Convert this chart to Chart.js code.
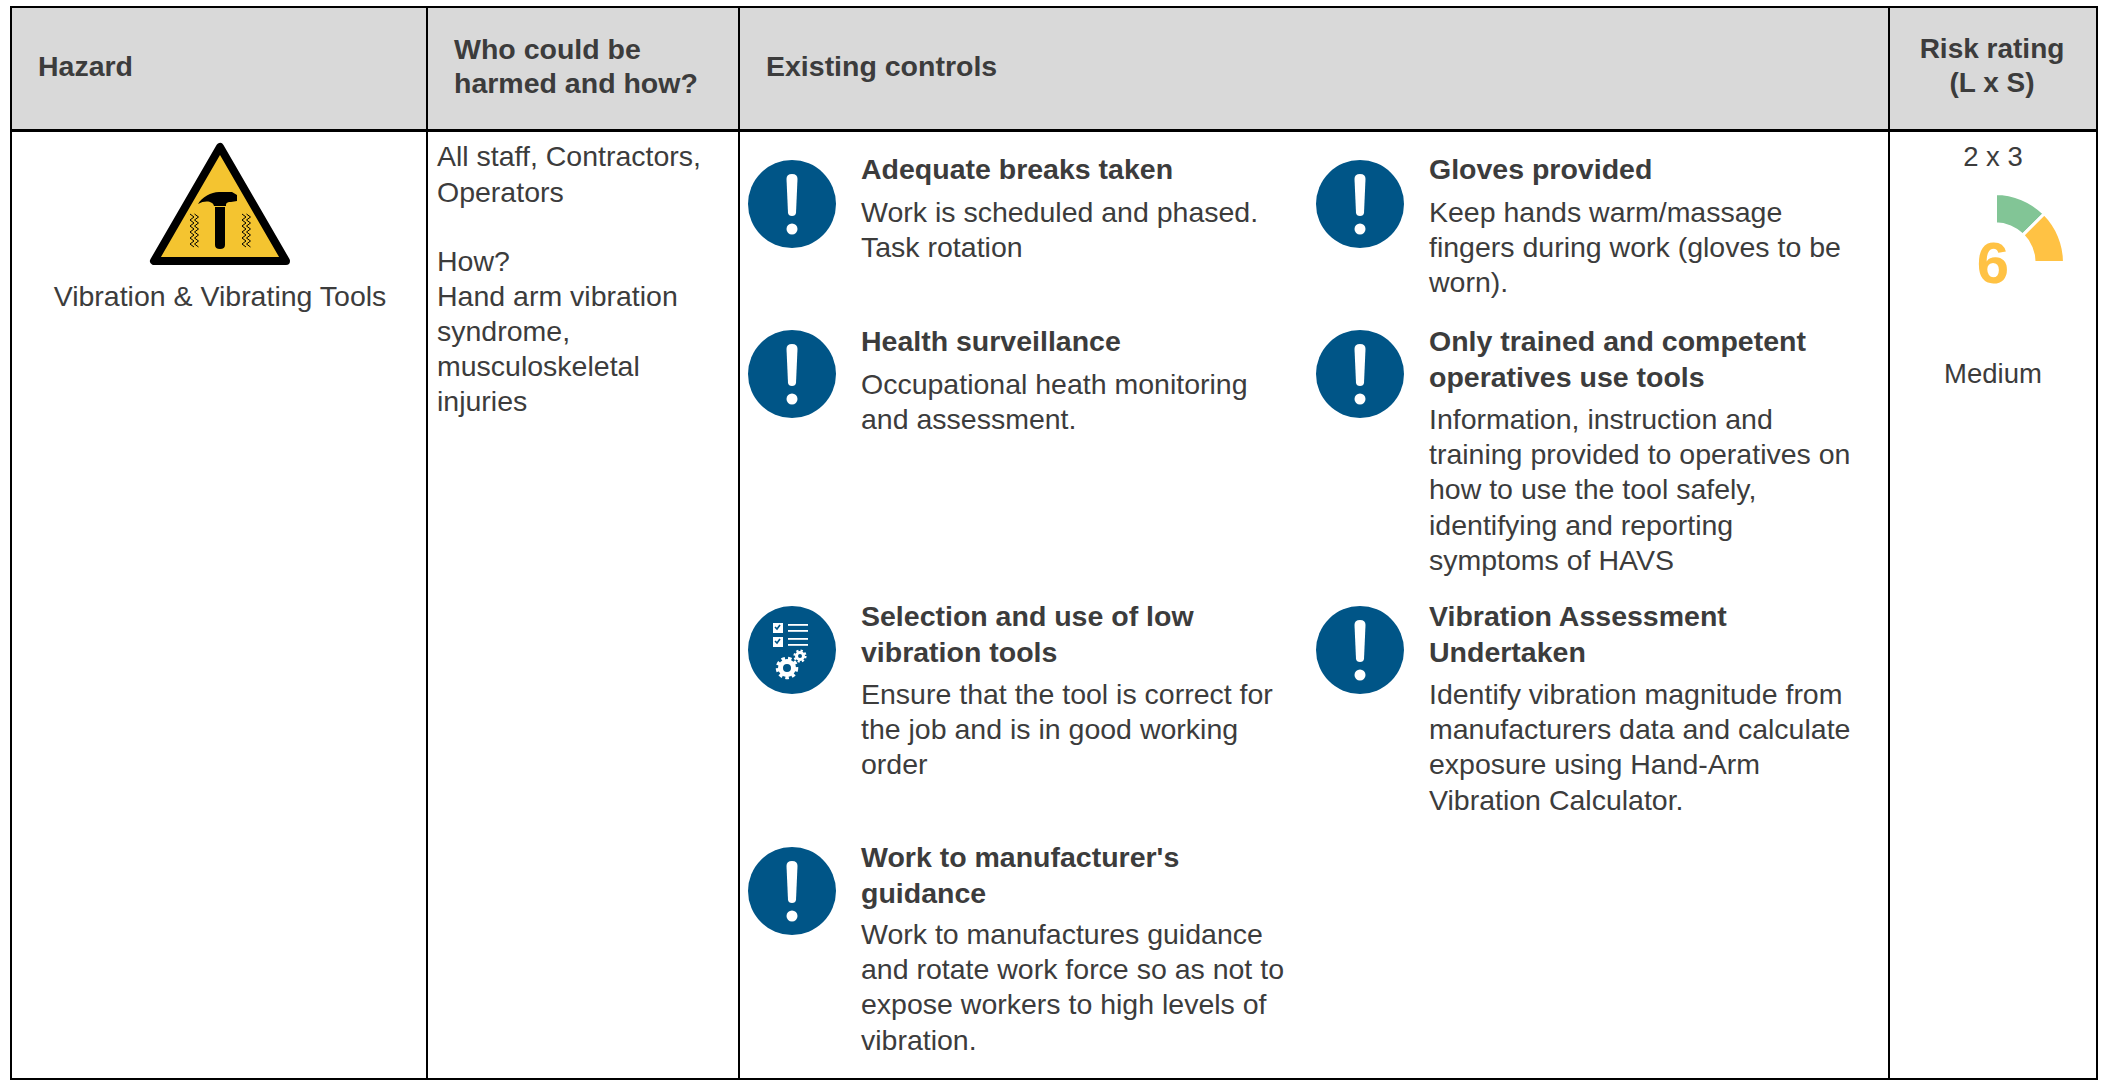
<!DOCTYPE html>
<html><head><meta charset="utf-8"><title>Hazard risk assessment</title>
<script src="https://cdn.jsdelivr.net/npm/chart.js@4"></script>
<style>
html,body{margin:0;padding:0;background:#fff;width:2104px;height:1080px;overflow:hidden}
body{font-family:"Liberation Sans",Arial,sans-serif;color:#3c3c3c;font-size:28.5px}
#page{position:relative;width:2104px;height:1080px}
.r{position:absolute;background:#000}
.t{position:absolute;white-space:pre;line-height:36px;height:36px}
.b{font-weight:700}
.c{transform:translateX(-50%)}
svg.i{position:absolute}
canvas{position:absolute}
</style></head><body><div id="page">
<div style="position:absolute;left:11px;top:7px;width:2086px;height:123px;background:#d9d9d9"></div>
<svg class="i" style="left:140px;top:135px" width="160" height="140" viewBox="140 135 160 140">
<path d="M220 147 L154 261 H286 Z" fill="#f4c430" stroke="#000" stroke-width="8" stroke-linejoin="round"/>
<path d="M198 204 C202 197 211 192 219 192 L232 192 L237 195 L237 201 L231 202 C226 202 226 204 226 206 L214 206 C213 201 205 200 198 204 Z" fill="#000"/>
<path d="M215 207 H225 V245 Q225 249 220 249 Q215 249 215 245 Z" fill="#000"/>
<g fill="none" stroke="#000" stroke-width="1">
<path d="M190 214 l4 3 -4 3 4 3 -4 3 4 3 -4 3 4 3 -4 3 4 3 -4 3 4 3"/>
<path d="M194.500 214 l4 3 -4 3 4 3 -4 3 4 3 -4 3 4 3 -4 3 4 3 -4 3 4 3"/>
<path d="M242 214 l4 3 -4 3 4 3 -4 3 4 3 -4 3 4 3 -4 3 4 3 -4 3 4 3"/>
<path d="M246.500 214 l4 3 -4 3 4 3 -4 3 4 3 -4 3 4 3 -4 3 4 3 -4 3 4 3"/>
</g></svg>
<canvas id="gauge"></canvas>
</div>
<script>
const headerLabels = ['Hazard', 'Who could be', 'harmed and how?', 'Existing controls', 'Risk rating', '(L x S)'];
const hazardName = 'Vibration & Vibrating Tools';
const whoLines = ['All staff, Contractors,', 'Operators', '', 'How?', 'Hand arm vibration', 'syndrome,', 'musculoskeletal', 'injuries'];
const leftTitles = [['Adequate breaks taken'], ['Health surveillance'], ['Selection and use of low', 'vibration tools'], ["Work to manufacturer's", 'guidance']];
const leftBodies = [['Work is scheduled and phased.', 'Task rotation'], ['Occupational heath monitoring', 'and assessment.'], ['Ensure that the tool is correct for', 'the job and is in good working', 'order'], ['Work to manufactures guidance', 'and rotate work force so as not to', 'expose workers to high levels of', 'vibration.']];
const rightTitles = [['Gloves provided'], ['Only trained and competent', 'operatives use tools'], ['Vibration Assessment', 'Undertaken']];
const rightBodies = [['Keep hands warm/massage', 'fingers during work (gloves to be', 'worn).'], ['Information, instruction and', 'training provided to operatives on', 'how to use the tool safely,', 'identifying and reporting', 'symptoms of HAVS'], ['Identify vibration magnitude from', 'manufacturers data and calculate', 'exposure using Hand-Arm', 'Vibration Calculator.']];
const ratingText = '2 x 3';
const ratingScore = '6';
const ratingLevel = 'Medium';
const gaugeBands = ['Low', 'Medium'];
const gaugeValues = [1, 1];

const page = document.getElementById('page');
function text(str, x, cy, cls, extra) {
  const d = document.createElement('div');
  d.className = 't ' + (cls || '');
  d.textContent = str;
  d.style.left = x + 'px';
  d.style.top = (cy - 18) + 'px';
  if (extra) Object.assign(d.style, extra);
  page.appendChild(d);
}
function rect(x, y, w, h) {
  const d = document.createElement('div');
  d.className = 'r';
  d.style.cssText = `left:${x}px;top:${y}px;width:${w}px;height:${h}px`;
  page.appendChild(d);
}
// grid
rect(10, 6, 2088, 2); rect(10, 129, 2088, 3); rect(10, 1078, 2088, 2);
[10, 426, 738, 1888, 2096].forEach(x => rect(x, 6, 2, 1074));

// header
text(headerLabels[0], 38, 66, 'b');
text(headerLabels[1], 454, 49, 'b');
text(headerLabels[2], 454, 83, 'b');
text(headerLabels[3], 766, 66, 'b');
text(headerLabels[4], 1992, 49, 'b c', {fontSize: '28px'});
text(headerLabels[5], 1992, 83, 'b c', {fontSize: '28px'});

// body
text(hazardName, 220, 296, 'c');
const whoY = [156, 192, 226, 261, 296, 331, 366, 401];
whoLines.forEach((l, i) => { if (l) text(l, 437, whoY[i]); });
text(ratingText, 1993, 157, 'c', {fontSize: '27.5px'});
text(ratingLevel, 1993, 374, 'c', {fontSize: '27.5px'});
text(ratingScore, 1993, 263, 'b c', {fontSize: '58px', color: '#ffc244', lineHeight: '36px'});

function icon(cx, cy, gears) {
  const ns = 'http://www.w3.org/2000/svg';
  const s = document.createElementNS(ns, 'svg');
  s.setAttribute('class', 'i');
  s.setAttribute('width', 90); s.setAttribute('height', 90);
  s.setAttribute('viewBox', '-45 -45 90 90');
  s.style.left = (cx - 45) + 'px'; s.style.top = (cy - 45) + 'px';
  s.innerHTML = gears
    ? `<circle r="44" fill="#005587"/>
       <g fill="#fff"><rect x="-19" y="-27" width="10" height="10"/><rect x="-19" y="-13" width="10" height="10"/>
       <rect x="-4" y="-26" width="20" height="1.8"/><rect x="-4" y="-20" width="20" height="1.8"/><rect x="-4" y="-12" width="20" height="1.8"/><rect x="-4" y="-6" width="20" height="1.8"/></g>
       <path d="M-17 -23 l2 2 3 -4 M-17 -9 l2 2 3 -4" stroke="#005587" stroke-width="1.6" fill="none"/>
       <circle cx="-5" cy="18" r="6.5" fill="none" stroke="#fff" stroke-width="5"/>
       <circle cx="-5" cy="18" r="9.5" fill="none" stroke="#fff" stroke-width="3.5" stroke-dasharray="3.5 3"/>
       <circle cx="8" cy="6" r="3.5" fill="none" stroke="#fff" stroke-width="3"/>
       <circle cx="8" cy="6" r="5.5" fill="none" stroke="#fff" stroke-width="2.2" stroke-dasharray="2.2 2.1"/>`
    : `<circle r="44" fill="#005587"/><path d="M-5.500 -25 Q-5.500 -30 0 -30 Q5.500 -30 5.500 -25 L4 9 Q3.500 12 0 12 Q-3.500 12 -4 9 Z" fill="#fff"/><circle cy="25" r="5.500" fill="#fff"/>`;
  page.appendChild(s);
}
function block(x, titleY, titles, bodyY, bodies) {
  titles.forEach((l, i) => text(l, x, titleY + i * 36, 'b'));
  bodies.forEach((l, i) => text(l, x, bodyY + i * 35.2));
}
const leftPos = [[169, 212, 204, false], [341, 384, 374, false], [616, 694, 650, true], [857, 934, 891, false]];
leftTitles.forEach((t, i) => { const p = leftPos[i]; block(861, p[0], t, p[1], leftBodies[i]); icon(792, p[2], p[3]); });
const rightPos = [[169, 212, 204], [341, 419, 374], [616, 694, 650]];
rightTitles.forEach((t, i) => { const p = rightPos[i]; block(1429, p[0], t, p[1], rightBodies[i]); icon(1360, p[2], false); });

// gauge
const cv = document.getElementById('gauge');
cv.width = 72; cv.height = 72;
cv.style.cssText = 'left:1994px;top:192px;width:72px;height:72px';
new Chart(cv, {
  type: 'doughnut',
  data: { labels: gaugeBands, datasets: [{ data: gaugeValues, backgroundColor: ['#82c596', '#ffc244'], borderColor: '#fff', borderWidth: 3 }] },
  options: { responsive: false, animation: false, rotation: 0, circumference: 90, cutout: '56%',
    layout: { padding: 0 }, plugins: { legend: { display: false }, tooltip: { enabled: false } } }
});
</script></body></html>
